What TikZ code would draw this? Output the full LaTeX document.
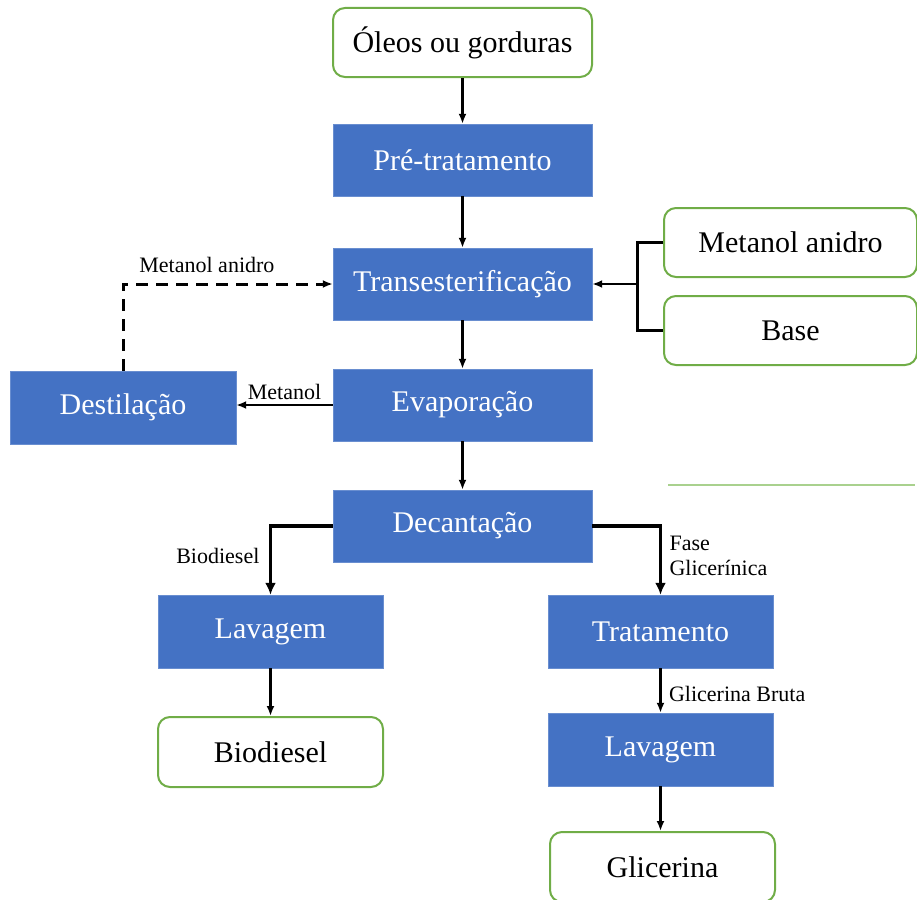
\documentclass[tikz,border=0pt]{standalone}
\usepackage{fontspec}
\setmainfont{Liberation Serif}
\usetikzlibrary{arrows.meta}
\definecolor{procblue}{HTML}{4472C4}
\definecolor{endgreen}{HTML}{70AD47}
\definecolor{palegreen}{HTML}{A9D18E}
\tikzset{
  procbox/.style={fill=procblue, draw=procblue!80!white, text=white, minimum width=259pt, minimum height=72pt, inner sep=0pt, font=\fontsize{30}{36}\selectfont},
  endbox/.style={draw=endgreen, line width=2pt, rounded corners=12pt, fill=white, minimum width=225pt, minimum height=70pt, inner sep=0pt, font=\fontsize{30}{36}\selectfont},
  flow/.style={black, line width=2.4pt, -{Latex[length=10pt,width=8pt]}},
  bigflow/.style={black, line width=3.5pt, -{Latex[length=12pt,width=11pt]}},
  lbl/.style={font=\fontsize{22}{25}\selectfont, text=black}
}

\begin{document}
\begin{tikzpicture}[x=1pt,y=-1pt]
\useasboundingbox (0,0) rectangle (917,899);

\node[endbox, minimum width=259pt, minimum height=69pt] (oleos) at (462.5,42.5) {Óleos ou gorduras};
\node[procbox] (pre) at (462.5,160) {Pré-tratamento};
\node[procbox] (trans) at (462.5,284) {Transesterificação};
\node[procbox] (evap) at (462.5,405) {Evaporação};
\node[procbox] (decant) at (462.5,526) {Decantação};
\node[procbox, minimum width=226pt, minimum height=73pt] (dest) at (123,407.5) {Destilação};

\node[endbox, minimum width=253pt, minimum height=69pt] (metan) at (790.5,242.5) {Metanol anidro};
\node[endbox, minimum width=253pt, minimum height=69pt] (base) at (790.5,330.5) {Base};

\node[procbox, minimum width=225pt, minimum height=73pt] (lavL) at (270.5,631.5) {Lavagem};
\node[endbox] (bio) at (270.5,752) {Biodiesel};
\node[procbox, minimum width=225pt, minimum height=73pt] (trat) at (660.5,631.5) {Tratamento};
\node[procbox, minimum width=225pt, minimum height=73pt] (lavR) at (660.5,749.5) {Lavagem};
\node[endbox] (glic) at (662.5,867) {Glicerina};

\coordinate (br) at (637,284);

\draw[flow] (oleos.south) -- (pre.north);
\draw[flow] (pre.south) -- (trans.north);
\draw[flow] (trans.south) -- (evap.north);
\draw[flow] (evap.south) -- (decant.north);
\draw[flow] (evap.west) -- (evap.west -| dest.east) node[lbl, above, midway, yshift=1pt] {Metanol};
\draw[flow, line width=3pt, dashed, dash pattern=on 12pt off 8pt] (dest.north) |- (trans.west) node[lbl, above, pos=0.7, yshift=6pt] {Metanol anidro};
\draw[black, line width=3pt] (metan.west) -| (br) |- (base.west);
\draw[flow] (br) -- (trans.east);
\draw[bigflow] (decant.west) -| (lavL.north) node[lbl, left, pos=0.72, xshift=-6pt] {Biodiesel};
\draw[bigflow] (decant.east) -| (trat.north) node[lbl, right, align=left, pos=0.72, xshift=4pt] {Fase\\Glicerínica};
\draw[flow] (lavL.south) -- (bio.north);
\draw[flow] (trat.south) -- (lavR.north) node[lbl, right, midway, xshift=4pt, yshift=-3pt] {Glicerina Bruta};
\draw[flow] (lavR.south) -- (lavR.south |- glic.north);

\draw[palegreen, line width=2pt] (668,485) -- (915,485);

\end{tikzpicture}
\end{document}
